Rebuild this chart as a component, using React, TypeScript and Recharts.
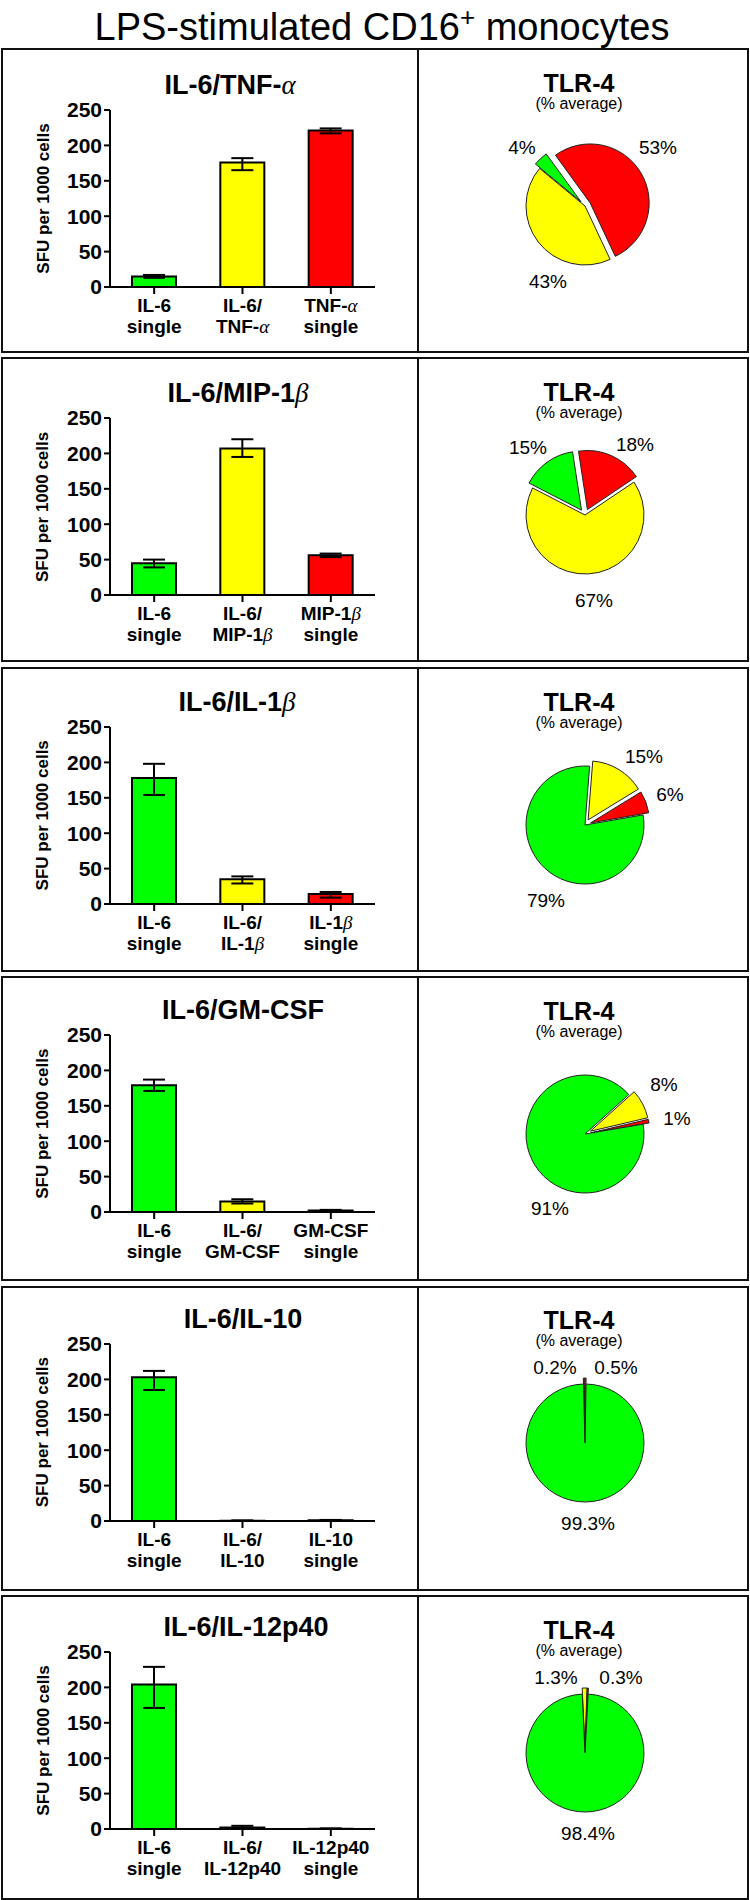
import React from 'react';
import { BarChart, Bar, XAxis, YAxis, ErrorBar, Cell, PieChart, Pie } from 'recharts';

const FONT = '"Liberation Sans", Arial, Helvetica, sans-serif';
const SERIF = '"Liberation Serif", "Times New Roman", serif';

// ---------- text ----------
const mainTitleA = 'LPS-stimulated CD16';
const mainTitleSup = '+';
const mainTitleB = ' monocytes';
const yAxisLabel = 'SFU per 1000 cells';
const pieTitle = 'TLR-4';
const pieSubtitle = '(% average)';

// ---------- bar data ----------
const barTitles = ['IL-6/TNF-α', 'IL-6/MIP-1β', 'IL-6/IL-1β', 'IL-6/GM-CSF', 'IL-6/IL-10', 'IL-6/IL-12p40'];
const barCategories = [
  ['IL-6\nsingle', 'IL-6/\nTNF-α', 'TNF-α\nsingle'],
  ['IL-6\nsingle', 'IL-6/\nMIP-1β', 'MIP-1β\nsingle'],
  ['IL-6\nsingle', 'IL-6/\nIL-1β', 'IL-1β\nsingle'],
  ['IL-6\nsingle', 'IL-6/\nGM-CSF', 'GM-CSF\nsingle'],
  ['IL-6\nsingle', 'IL-6/\nIL-10', 'IL-10\nsingle'],
  ['IL-6\nsingle', 'IL-6/\nIL-12p40', 'IL-12p40\nsingle'],
];
const barValues = [
  [15, 176, 221],
  [45, 207, 56],
  [178, 35, 14],
  [179, 15, 2],
  [203, 0.5, 1],
  [204, 2, 0.5],
];
// [below, above]
const barErrors = [
  [[2, 2], [11, 6], [4, 3]],
  [[6, 5], [12, 13], [2.5, 2.5]],
  [[24, 20], [6, 4], [5, 3]],
  [[8, 8], [3, 3], [1, 1]],
  [[18, 9], [0.3, 0.3], [0.5, 0.5]],
  [[33, 25], [1.5, 2.5], [0.3, 0.3]],
];
const GREEN = '#00ff00';
const YELLOW = '#ffff00';
const RED = '#ff0000';
const barColors = [GREEN, YELLOW, RED];
const yTicks = [0, 50, 100, 150, 200, 250];

// ---------- pie data (clockwise order) ----------
const pieValues = [
  [53, 43, 4],
  [18, 67, 15],
  [15, 6, 79],
  [8, 1, 91],
  [0.2, 0.5, 99.3],
  [1.3, 0.3, 98.4],
];
const pieColors = [
  [RED, YELLOW, GREEN],
  [RED, YELLOW, GREEN],
  [YELLOW, RED, GREEN],
  [YELLOW, RED, GREEN],
  [YELLOW, RED, GREEN],
  [YELLOW, RED, GREEN],
];
// start angle, degrees clockwise from 12 o'clock
const pieStartDeg = [-36, -8.7, 4.5, 48, -1.5, -2.7];
const pieExploded = [
  [true, false, true],
  [true, false, true],
  [true, true, false],
  [true, true, false],
  [true, true, false],
  [true, true, false],
];

// ---------- layout ----------
const BOX_TOP0 = 48;
const BOX_PITCH = 309.4;
const BOX_H = 305;
const AXIS0_Y0 = 287;
const AXIS_PITCH = 308.4;
const PIE_Y0 = 206;
const PIE_PITCH = 309.3;
const BAR_TITLE_X = [230, 238, 237, 243, 243, 246];
const PIE_CX = 167;
const PIE_CY = 159;
const PIE_R = 59;
const EXPLODE = 6;
const pieLabelPos = [
  [[73, -59], [-37, 75], [-63, -59]],
  [[50, -71], [9, 85], [-57, -68]],
  [[59, -69], [85, -31], [-39, 75]],
  [[79, -50], [92, -16], [-35, 74]],
  [[-30, -76], [31, -76], [3, 80]],
  [[-29, -76], [36, -76], [3, 80]],
];

function rich(s: string) {
  const parts = s.split(/([αβ])/).filter((p) => p.length > 0);
  return parts.map((p, i) =>
    /[αβ]/.test(p) ? (
      <tspan key={i} fontFamily={SERIF} fontStyle="italic" fontWeight={400}>
        {p}
      </tspan>
    ) : (
      <tspan key={i}>{p}</tspan>
    )
  );
}

const XTick = (props: any) => {
  const { x, y, payload } = props;
  const lines = String(payload.value).split('\n');
  return (
    <text x={x} y={y} textAnchor="middle" fontFamily={FONT} fontSize={19} fontWeight={700} fill="#000">
      {lines.map((ln, i) => (
        <tspan key={i} x={x} dy={i === 0 ? 18 : 21}>
          {rich(ln)}
        </tspan>
      ))}
    </text>
  );
};

function BarRow({ row }: { row: number }) {
  const data = barCategories[row].map((c, i) => ({ cat: c, value: barValues[row][i], err: barErrors[row][i] }));
  return (
    <BarChart width={416} height={303} data={data} margin={{ top: 61, right: 43, bottom: 5, left: 48 }}>
      <XAxis
        dataKey="cat"
        tick={<XTick />}
        tickLine={{ stroke: '#000', strokeWidth: 2 }}
        axisLine={{ stroke: '#000', strokeWidth: 2 }}
        tickSize={7}
        tickMargin={0}
        interval={0}
        height={60}
      />
      <YAxis
        domain={[0, 250]}
        ticks={yTicks}
        interval={0}
        allowDataOverflow
        tick={{ fill: '#000', fontSize: 21, fontWeight: 700, fontFamily: FONT }}
        tickLine={{ stroke: '#000', strokeWidth: 2 }}
        axisLine={{ stroke: '#000', strokeWidth: 2 }}
        tickSize={6}
        width={60}
      />
      <Bar dataKey="value" barSize={44} stroke="#000" strokeWidth={2} isAnimationActive={false}>
        {data.map((_, i) => (
          <Cell key={i} fill={barColors[i]} />
        ))}
        <ErrorBar dataKey="err" width={11} stroke="#000" strokeWidth={2} direction="y" isAnimationActive={false} />
      </Bar>
    </BarChart>
  );
}

function PieRow({ row }: { row: number }) {
  const values = pieValues[row];
  const colors = pieColors[row];
  const data = values.map((v, i) => ({ name: `s${i}`, value: v }));
  const total = values.reduce((a, b) => a + b, 0);
  const start = pieStartDeg[row];
  let cum = 0;
  const offsets = values.map((v, i) => {
    const mid = start + ((cum + v / 2) / total) * 360;
    cum += v;
    const e = pieExploded[row][i] ? EXPLODE : 0;
    const rad = (mid * Math.PI) / 180;
    return { dx: e * Math.sin(rad), dy: -e * Math.cos(rad) };
  });
  const renderLabel = (p: any) => {
    const idx = p.index;
    const o = pieLabelPos[row][idx];
    return (
      <text
        key={`l${idx}`}
        x={PIE_CX + o[0]}
        y={PIE_CY + o[1]}
        textAnchor="middle"
        dominantBaseline="central"
        fontFamily={FONT}
        fontSize={19}
        fill="#000"
      >
        {`${values[idx]}%`}
      </text>
    );
  };
  return (
    <PieChart width={330} height={303} margin={{ top: 0, right: 0, bottom: 0, left: 0 }}>
      {values.map((_, j) => (
        <Pie
          key={j}
          data={data}
          dataKey="value"
          cx={PIE_CX + offsets[j].dx}
          cy={PIE_CY + offsets[j].dy}
          outerRadius={PIE_R}
          innerRadius={0}
          startAngle={90 - start}
          endAngle={90 - start - 360}
          isAnimationActive={false}
          labelLine={false}
          label={j === 0 ? renderLabel : false}
        >
          {data.map((_, k) => (
            <Cell key={k} fill={k === j ? colors[k] : 'none'} stroke={k === j ? '#222' : 'none'} strokeWidth={1} />
          ))}
        </Pie>
      ))}
    </PieChart>
  );
}

export default function App() {
  const rows = [0, 1, 2, 3, 4, 5];
  return (
    <div style={{ position: 'absolute', left: 0, top: 0, width: 750, height: 1900, background: '#fff', fontFamily: FONT }}>
      {rows.map((r) => {
        const top = BOX_TOP0 + r * BOX_PITCH;
        return (
          <React.Fragment key={`box${r}`}>
            <div
              style={{
                position: 'absolute',
                left: 1,
                top,
                width: 748,
                height: BOX_H,
                border: '2px solid #111',
                boxSizing: 'border-box',
              }}
            />
            <div style={{ position: 'absolute', left: 417, top, width: 2, height: BOX_H, background: '#111' }} />
          </React.Fragment>
        );
      })}
      {rows.map((r) => {
        const axis0 = AXIS0_Y0 + r * AXIS_PITCH;
        const pieY = PIE_Y0 + r * PIE_PITCH;
        return (
          <React.Fragment key={`ch${r}`}>
            <div style={{ position: 'absolute', left: 2, top: axis0 - 238 }}>
              <BarRow row={r} />
            </div>
            <div style={{ position: 'absolute', left: 418, top: pieY - PIE_CY }}>
              <PieRow row={r} />
            </div>
          </React.Fragment>
        );
      })}
      <svg
        width={750}
        height={1900}
        style={{ position: 'absolute', left: 0, top: 0, pointerEvents: 'none' }}
      >
        <text x={382} y={40} textAnchor="middle" fontFamily={FONT} fontSize={38} fill="#000">
          {mainTitleA}
          <tspan fontSize={26} dy={-14}>
            {mainTitleSup}
          </tspan>
          <tspan dy={14}>{mainTitleB}</tspan>
        </text>
        {rows.map((r) => {
          const axis0 = AXIS0_Y0 + r * AXIS_PITCH;
          const pieY = PIE_Y0 + r * PIE_PITCH;
          const ly = axis0 - 88.5;
          return (
            <g key={`t${r}`}>
              <text
                x={BAR_TITLE_X[r]}
                y={axis0 - 193}
                textAnchor="middle"
                fontFamily={FONT}
                fontSize={27}
                fontWeight={700}
                fill="#000"
              >
                {rich(barTitles[r])}
              </text>
              <text
                x={43}
                y={ly}
                transform={`rotate(-90 43 ${ly})`}
                textAnchor="middle"
                dominantBaseline="central"
                fontFamily={FONT}
                fontSize={17}
                fontWeight={700}
                fill="#000"
              >
                {yAxisLabel}
              </text>
              <text x={579} y={pieY - 114} textAnchor="middle" fontFamily={FONT} fontSize={25} fontWeight={700} fill="#000">
                {pieTitle}
              </text>
              <text x={579} y={pieY - 97} textAnchor="middle" fontFamily={FONT} fontSize={16} fill="#000">
                {pieSubtitle}
              </text>
            </g>
          );
        })}
      </svg>
    </div>
  );
}
